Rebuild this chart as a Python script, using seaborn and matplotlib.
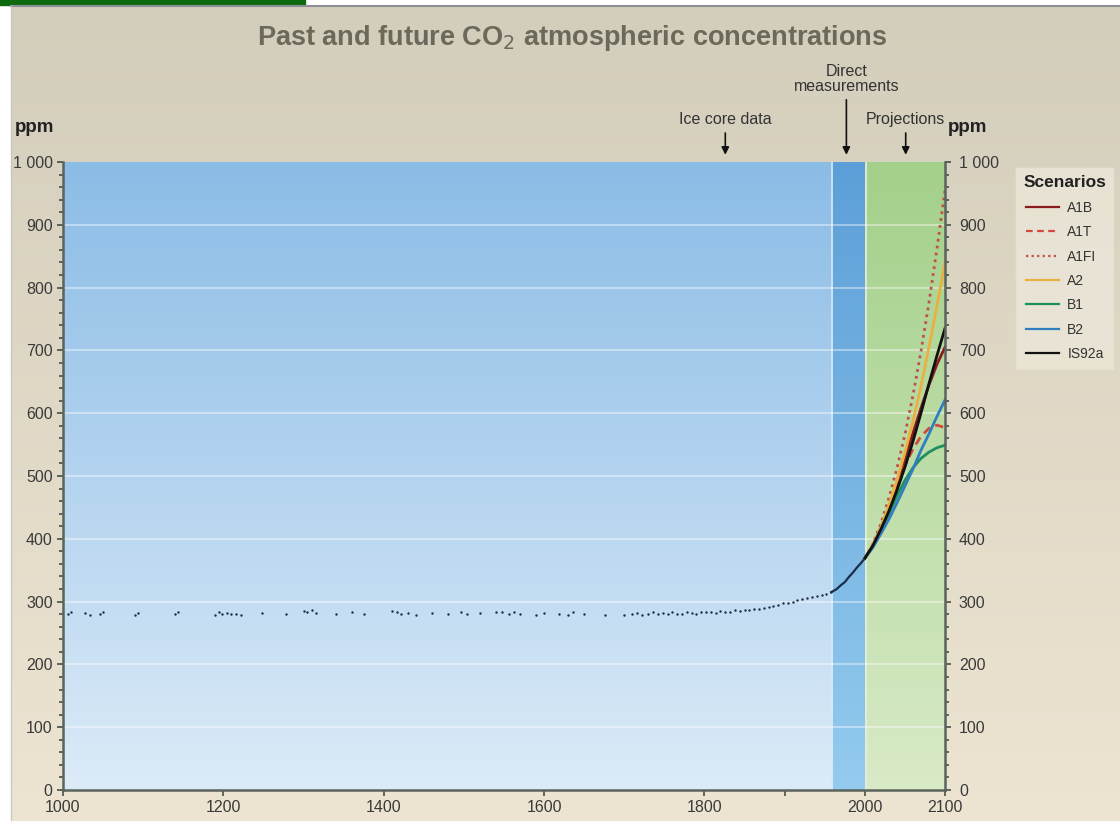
import numpy as np
import pandas as pd
import seaborn as sns
import matplotlib.pyplot as plt
from matplotlib.colors import LinearSegmentedColormap
from matplotlib.lines import Line2D
from matplotlib.ticker import FuncFormatter

# ice core data (scattered points)
ice_years = [1006, 1010, 1028, 1034, 1046, 1050, 1090, 1094, 1140, 1144, 1190, 1194, 1198,
             1204, 1210, 1216, 1222, 1248, 1278, 1300, 1304, 1310, 1316, 1340, 1360, 1376,
             1410, 1416, 1422, 1430, 1440, 1460, 1480, 1496, 1504, 1520, 1540, 1548, 1556,
             1562, 1570, 1590, 1600, 1618, 1630, 1636, 1650, 1676, 1700, 1710, 1716, 1722,
             1730, 1736, 1742, 1748, 1754, 1760, 1766, 1772, 1778, 1784, 1790, 1796, 1802,
             1808, 1814, 1820, 1826, 1832, 1838, 1844, 1850, 1856, 1862, 1868, 1874, 1880,
             1886, 1892, 1898, 1904, 1910, 1916, 1922, 1928, 1934, 1940, 1946, 1952, 1958]
ice_ppm = [280, 283, 282, 279, 281, 283, 279, 282, 281, 284, 278, 283, 281,
           282, 280, 281, 278, 282, 281, 285, 283, 286, 282, 280, 283, 281,
           285, 283, 280, 282, 279, 282, 281, 283, 280, 282, 284, 283, 281,
           283, 280, 278, 282, 281, 279, 283, 280, 279, 278, 280, 282, 279,
           281, 283, 280, 282, 281, 283, 280, 281, 283, 282, 281, 284, 283,
           284, 282, 285, 284, 284, 286, 285, 286, 287, 289, 288, 290, 292,
           293, 295, 297, 298, 300, 302, 304, 306, 307, 309, 310, 312, 315]

# direct measurements
direct_years = [1958, 1965, 1970, 1975, 1980, 1985, 1990, 1995, 2000]
direct_ppm = [315, 320, 326, 331, 339, 346, 354, 361, 369]

# projections (SRES scenarios)
proj_years = [2000, 2010, 2020, 2030, 2040, 2050, 2060, 2070, 2080, 2090, 2100]
a1b = [369, 389, 418, 450, 487, 527, 568, 608, 645, 678, 705]
a1t = [369, 389, 415, 448, 483, 516, 543, 563, 576, 581, 577]
a1fi = [369, 392, 424, 465, 512, 566, 628, 698, 776, 862, 955]
a2 = [369, 390, 418, 453, 493, 537, 587, 643, 705, 771, 840]
b1 = [369, 388, 413, 440, 468, 493, 513, 528, 538, 545, 549]
b2 = [369, 386, 408, 431, 457, 484, 511, 541, 567, 595, 621]
is92a = [369, 389, 415, 444, 477, 514, 555, 600, 647, 692, 735]

scen_names = ["A1B", "A1T", "A1FI", "A2", "B1", "B2", "IS92a"]
scen_values = [a1b, a1t, a1fi, a2, b1, b2, is92a]
scen_colors = ["#8a1c1c", "#d2483c", "#c0504a", "#eab040", "#1f8f5f", "#2f7fc0", "#111111"]
scen_styles = ["-", (0, (3, 2)), (0, (1, 1.5)), "-", "-", "-", "-"]

plt.rcParams['font.family'] = ['Liberation Sans', 'DejaVu Sans']

fig = plt.figure(figsize=(11.2, 8.21), dpi=100)

# page background
bg = fig.add_axes([0, 0, 1, 1], zorder=-10)
bg.set_xlim(0, 1120)
bg.set_ylim(821, 0)
bg.axis("off")
beige = LinearSegmentedColormap.from_list("beige", ["#d3cdbb", "#ede5d2"])
bg.imshow(np.linspace(0, 1, 256).reshape(-1, 1), cmap=beige, aspect="auto",
          extent=[11, 1120, 821, 6])
bg.fill_between([0, 305], 0, 5, color="#0d6b0d")
bg.plot([11, 1120], [6, 6], color="#8c9094", lw=1.5)
bg.plot([11, 11], [6, 821], color="#c8c8c0", lw=1)

ax = fig.add_axes([63 / 1120, 1 - 790 / 821, (945 - 63) / 1120, (790 - 162) / 821])
grad = np.linspace(1, 0, 256).reshape(-1, 1)
blue = LinearSegmentedColormap.from_list("blue", ["#dcebf8", "#8bbce6"])
dblue = LinearSegmentedColormap.from_list("dblue", ["#94cbee", "#5c9fd8"])
green = LinearSegmentedColormap.from_list("green", ["#d8eac6", "#a3d08a"])
ax.imshow(grad, cmap=blue, aspect="auto", extent=[1000, 1960, 0, 1000], zorder=0)
ax.imshow(grad, cmap=dblue, aspect="auto", extent=[1960, 2000, 0, 1000], zorder=0)
ax.imshow(grad, cmap=green, aspect="auto", extent=[2000, 2100, 0, 1000], zorder=0)
ax.axvline(1959, color="#d6e8f6", lw=1.2, zorder=0.5)
ax.axvline(2001, color="#e4f0dc", lw=1.2, zorder=0.5)
for v in range(100, 1000, 100):
    ax.axhline(v, color="white", lw=1.3, alpha=0.45, zorder=1)

sns.scatterplot(x=ice_years, y=ice_ppm, ax=ax, s=3, color="#1c2c4a", linewidth=0, zorder=3)
sns.lineplot(x=direct_years, y=direct_ppm, ax=ax, color="#1c2c4a", lw=1.6, zorder=3)
for name, vals, c, ls in zip(scen_names, scen_values, scen_colors, scen_styles):
    sns.lineplot(x=proj_years, y=vals, ax=ax, color=c, linestyle=ls, lw=2.0, zorder=4)

ax.set_xlim(1000, 2100)
ax.set_ylim(0, 1000)
ax.set_xlabel("")
ax.set_ylabel("")
fmt = FuncFormatter(lambda v, p: "1 000" if v == 1000 else "%d" % v)
ax.set_xticks([1000, 1200, 1400, 1600, 1800, 1900, 2000, 2100])
ax.set_xticklabels(["1000", "1200", "1400", "1600", "1800", "", "2000", "2100"])
ax.set_yticks(range(0, 1001, 100))
ax.set_yticks(range(0, 1001, 20), minor=True)
ax.yaxis.set_major_formatter(fmt)
ax.tick_params(axis="both", colors="#44504a", labelcolor="#3a3a3a", labelsize=11.5,
               length=4, width=1.2)
ax.tick_params(axis="y", which="minor", length=3, width=1.2, colors="#44504a")
for s in ["top", "right"]:
    ax.spines[s].set_visible(False)
for s in ["left", "bottom"]:
    ax.spines[s].set_color("#5a645c")
    ax.spines[s].set_linewidth(1.8)

ax2 = ax.twinx()
ax2.set_ylim(0, 1000)
ax2.set_yticks(range(0, 1001, 100))
ax2.set_yticks(range(0, 1001, 20), minor=True)
ax2.yaxis.set_major_formatter(fmt)
ax2.tick_params(axis="y", colors="#44504a", labelcolor="#3a3a3a", labelsize=11.5,
                length=4, width=1.2, pad=6)
ax2.tick_params(axis="y", which="minor", length=3, width=1.2, colors="#44504a")
for s in ["top", "left", "bottom"]:
    ax2.spines[s].set_visible(False)
ax2.spines["right"].set_color("#5a645c")
ax2.spines["right"].set_linewidth(1.8)

fig.text(572 / 1120, 1 - 38 / 821, "Past and future CO$_2$ atmospheric concentrations",
         ha="center", va="center", fontsize=19.5, fontweight="bold", color="#6b685c")
fig.text(35 / 1120, 1 - 127 / 821, "ppm", ha="center", va="center", fontsize=13.5,
         fontweight="bold", color="#222222")
fig.text(968 / 1120, 1 - 127 / 821, "ppm", ha="center", va="center", fontsize=13.5,
         fontweight="bold", color="#222222")

arrow = dict(arrowstyle="-|>", color="#111111", lw=1.2, mutation_scale=11)
ax.annotate("Ice core data", xy=(1826, 1007), xytext=(1826, 1055), ha="center",
            va="bottom", fontsize=11.5, color="#333333", arrowprops=arrow,
            annotation_clip=False)
ax.annotate("Direct\nmeasurements", xy=(1977, 1007), xytext=(1977, 1108), ha="center",
            va="bottom", fontsize=11.5, color="#333333", arrowprops=arrow,
            annotation_clip=False, linespacing=1.05)
ax.annotate("Projections", xy=(2051, 1007), xytext=(2051, 1055), ha="center",
            va="bottom", fontsize=11.5, color="#333333", arrowprops=arrow,
            annotation_clip=False)

handles = [Line2D([], [], color=c, linestyle=ls, lw=1.6)
           for c, ls in zip(scen_colors, scen_styles)]
leg = fig.legend(handles, scen_names, title="Scenarios", loc="upper left",
                 bbox_to_anchor=(1008 / 1120, 1 - 160 / 821), fontsize=10,
                 title_fontproperties={"weight": "bold", "size": 12.5},
                 frameon=True, facecolor="#ece7d9", edgecolor="#dcd6c6",
                 handlelength=2.4, labelspacing=0.75, borderpad=0.6,
                 handletextpad=0.6, fancybox=False)
for t in leg.get_texts():
    t.set_color("#333333")
leg.get_title().set_color("#222222")

fig.savefig("out.png", dpi=100)
